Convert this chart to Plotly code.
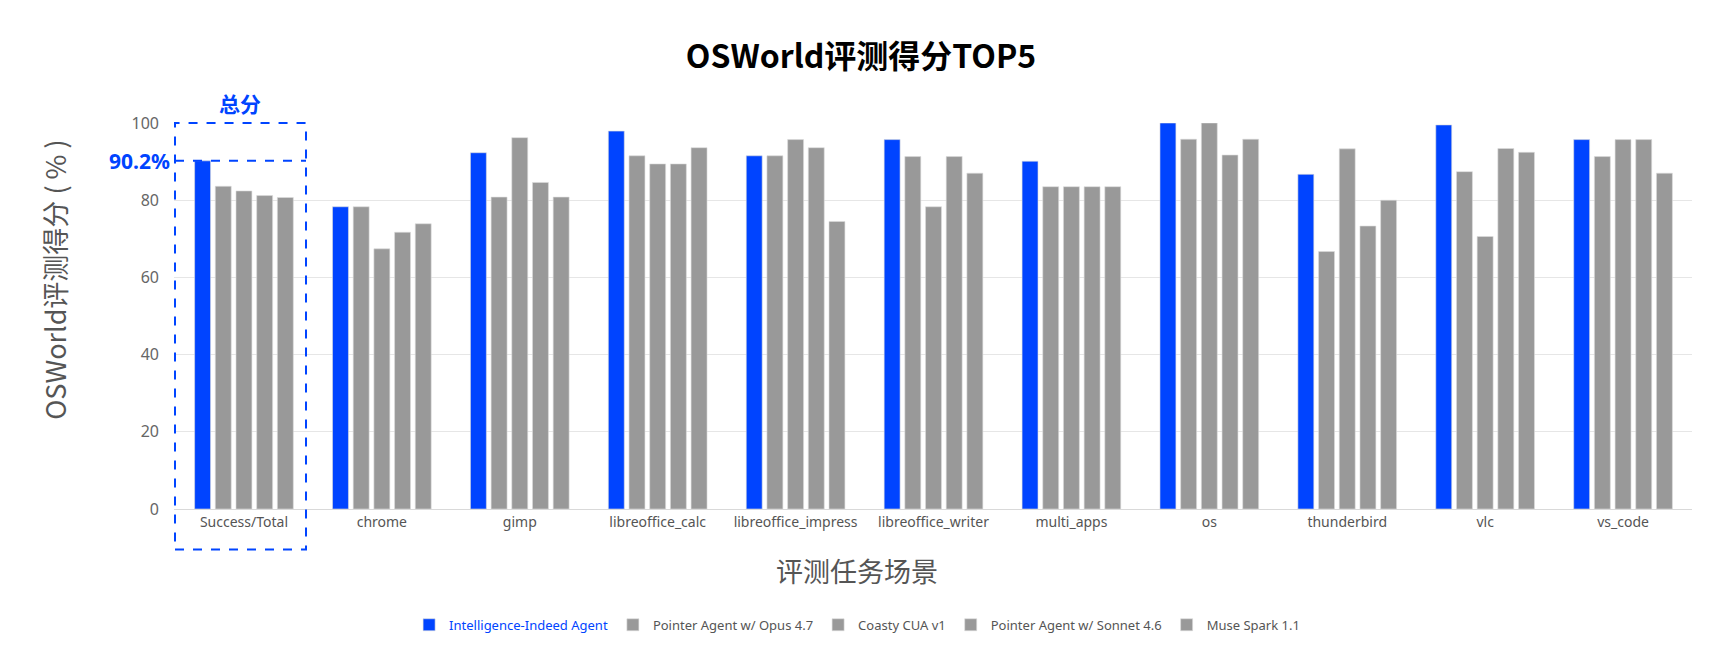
import plotly.graph_objects as go

# Chart data
categories = ["Success/Total", "chrome", "gimp", "libreoffice_calc", "libreoffice_impress",
              "libreoffice_writer", "multi_apps", "os", "thunderbird", "vlc", "vs_code"]
series_names = ["Intelligence-Indeed Agent", "Pointer Agent w/ Opus 4.7", "Coasty CUA v1",
                "Pointer Agent w/ Sonnet 4.6", "Muse Spark 1.1"]
indeed_agent = [90.2, 78.3, 92.3, 97.9, 91.5, 95.7, 90.1, 100, 86.7, 99.5, 95.7]
pointer_opus = [83.6, 78.3, 80.8, 91.5, 91.5, 91.3, 83.5, 95.8, 66.7, 87.4, 91.3]
coasty_cua = [82.4, 67.4, 96.2, 89.4, 95.7, 78.3, 83.5, 100, 93.3, 70.6, 95.7]
pointer_sonnet = [81.2, 71.7, 84.6, 89.4, 93.6, 91.3, 83.5, 91.7, 73.3, 93.4, 95.7]
muse_spark = [80.7, 73.9, 80.8, 93.6, 74.5, 87.0, 83.5, 95.8, 80.0, 92.4, 87.0]
total_score = 90.2

BLUE = "#0044ff"
GRAY = "#999999"

fig = go.Figure()
all_series = [indeed_agent, pointer_opus, coasty_cua, pointer_sonnet, muse_spark]
for i, (name, vals) in enumerate(zip(series_names, all_series)):
    color = BLUE if i == 0 else GRAY
    label = '<span style="color:%s">%s</span>' % (BLUE, name) if i == 0 else name
    fig.add_trace(go.Bar(name=label, x=categories, y=vals, marker_color=color,
                         marker_line=dict(width=1, color="rgba(220,220,220,0.6)")))

# Dashed box around the total score group
fig.add_shape(type="rect", xref="x", yref="paper", x0=-0.5, x1=0.45, y0=-0.105, y1=1.0,
              line=dict(color=BLUE, width=2, dash="dash"))
fig.add_shape(type="line", xref="x", yref="y", x0=-0.5, x1=0.45, y0=total_score, y1=total_score,
              line=dict(color=BLUE, width=2, dash="dash"))
# right edge border line
fig.add_shape(type="line", xref="paper", yref="paper", x0=1.011, x1=1.011, y0=-0.37, y1=1.32,
              line=dict(color="#e6e6e6", width=2))

fig.add_annotation(text="<b>%.1f%%</b>" % total_score, xref="paper", yref="y", x=0, y=total_score,
                   xanchor="right", yanchor="middle", xshift=-2, showarrow=False,
                   font=dict(size=21, color=BLUE, family="Noto Sans"))
fig.add_annotation(text="<b>总分</b>", xref="x", yref="paper", x=-0.03, y=1.053,
                   xanchor="center", yanchor="middle", showarrow=False,
                   font=dict(size=21, color=BLUE, family="Noto Sans CJK SC"))
fig.add_annotation(text="评测任务场景", xref="paper", yref="paper", x=0.45, y=-0.16,
                   xanchor="center", yanchor="middle", showarrow=False,
                   font=dict(size=27, color="#555555", family="Noto Sans CJK SC"))
fig.add_annotation(text="OSWorld评测得分 ( % )", xref="paper", yref="paper", x=-0.0784, y=0.594,
                   xanchor="center", yanchor="middle", textangle=-90, showarrow=False,
                   font=dict(size=27, color="#555555", family="Noto Sans CJK SC"))

# page body has an 8px margin, so the figure is shifted by that much
fig.update_layout(
    width=1706, height=646,
    margin=dict(l=166, r=22, t=115, b=145, autoexpand=False),
    title=dict(text="<b>OSWorld评测得分TOP5</b>", x=0.5, xref="container", xanchor="center",
               y=0.924, yref="container", yanchor="middle",
               font=dict(size=32, color="#000000", family="Noto Sans CJK SC")),
    barmode="group", bargap=0.25, bargroupgap=0.23,
    paper_bgcolor="white", plot_bgcolor="white",
    font=dict(family="Noto Sans CJK SC", color="#555555"),
    legend=dict(orientation="h", x=0.45, xanchor="center",
                y=-0.30, yanchor="middle",
                font=dict(size=13, color="#555555", family="Noto Sans")),
    showlegend=True,
)
fig.update_xaxes(type="category", showgrid=False, showline=True, linecolor="#d9d9d9", linewidth=1,
                 ticks="", tickangle=0, automargin=False,
                 tickfont=dict(size=14, color="#555555", family="Noto Sans"))
fig.update_yaxes(range=[0, 100], dtick=20, showgrid=True, gridcolor="#e6e6e6", zeroline=False,
                 showline=False, ticks="", ticklabelstandoff=14, automargin=False,
                 tickfont=dict(size=16, color="#666666", family="Noto Sans"))

fig.write_html("out.html")
